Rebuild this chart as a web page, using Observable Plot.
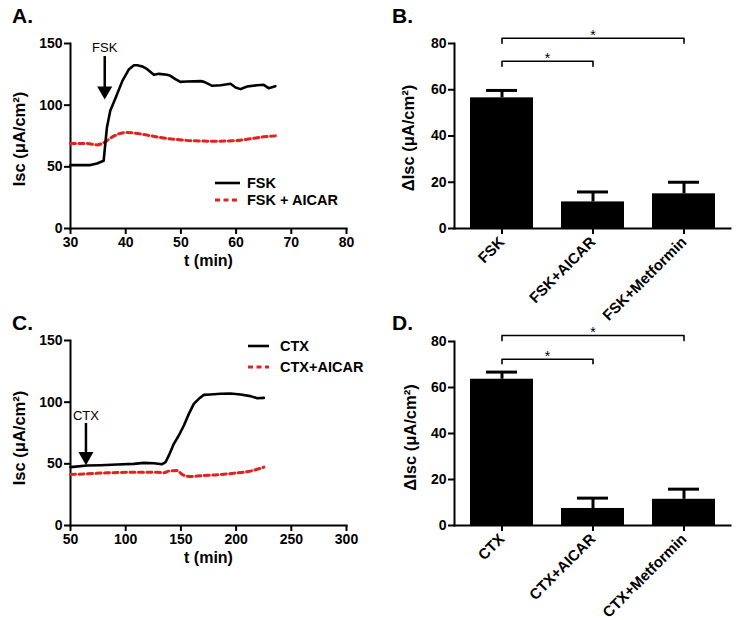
<!DOCTYPE html>
<html><head><meta charset="utf-8">
<script src="https://cdn.jsdelivr.net/npm/d3@7"></script>
<script src="https://cdn.jsdelivr.net/npm/@observablehq/plot@0.6"></script>
<style>
body{margin:0;background:#fff;}
#root{position:relative;width:736px;height:620px;font-family:"Liberation Sans",Arial,sans-serif;overflow:hidden;}
.panel{position:absolute;}
.tag{position:absolute;font-weight:bold;font-size:21px;line-height:21px;}
.legend{position:absolute;font-weight:bold;font-size:14.5px;}
.legend .row{display:flex;align-items:center;white-space:nowrap;}
</style></head><body><div id="root"></div>
<script>
// ---------- data ----------
const fskT      = [30,33.6,34.8,36.0,36.6,37.2,38.2,39.4,40.6,41.5,42.1,43.0,43.9,45.1,46.0,47.5,48.1,49.0,49.9,51.1,53.6,54.2,55.7,57.2,59.0,59.9,60.8,62.0,63.8,65.0,65.9,67.1];
const fskIsc    = [51.4,51.4,52.7,54.9,81.9,95.4,106.2,119.7,129.2,132.4,132.4,131.4,129.2,124.6,125.4,124.6,123.8,121.1,118.9,119.2,119.5,118.9,115.7,116.2,117.3,114.3,113.0,115.1,116.2,116.5,113.8,115.4];
const fskAicarT   = [30,33.0,34.8,36.0,37.9,40.0,41.8,43.9,46.3,48.7,52.3,56.0,59.6,62.0,65.0,67.1];
const fskAicarIsc = [68.9,68.9,67.8,69.5,75.1,77.8,77.3,75.7,73.8,72.4,71.1,70.8,71.1,72.4,74.3,75.1];

const ctxT      = [50,65.1,77.2,92.3,107.4,116.4,125.5,133.0,136.1,139.1,143.6,148.1,152.7,157.2,161.7,166.2,170.8,176.8,185.9,195.0,204.0,213.0,219.1,225.1];
const ctxIsc    = [47.3,48.6,48.9,49.5,50.0,50.8,50.5,49.7,51.4,56.8,66.2,73.0,81.1,90.5,98.6,102.7,105.9,106.2,106.8,107.0,106.2,104.9,103.2,103.5];
const ctxAicarT   = [50,65.1,83.2,107.4,128.5,134.5,139.1,146.6,151.1,158.7,167.8,182.9,198.0,213.0,225.1];
const ctxAicarIsc = [41.4,41.9,42.7,43.2,43.2,42.7,44.1,44.6,41.4,39.7,40.3,41.1,42.4,44.1,47.3];

const xTicksA = [30,40,50,60,70,80];
const xTicksC = [50,100,150,200,250,300];
const yTicksAC = [0,50,100,150];
const yTicksBD = [0,20,40,60,80];

// annotation arrows: [label, x, textY, arrowFromY, arrowToY]
const annotA = [["FSK", 36.2, 146.8, 139.4, 112.4]];
const annotC = [["CTX", 64.0, 89.2, 82.7, 56.8]];

const catsB  = ["FSK","FSK+AICAR","FSK+Metformin"];
const meansB = [56.5, 11.5, 15.0];
const errsB  = [3.2, 4.3, 5.0];
const catsD  = ["CTX","CTX+AICAR","CTX+Metformin"];
const meansD = [63.6, 7.4, 11.4];
const errsD  = [3.1, 4.5, 4.4];
// significance brackets: [from index, to index, height, drop]
const sigB = [[0,1,72.3,2.1],[0,2,82.3,2.2]];
const sigD = [[0,1,72.3,2.0],[0,2,82.6,2.2]];

const RED = "#e3221c";
const FONT = "'Liberation Sans', Arial, sans-serif";
const root = document.getElementById("root");

function place(node, left, top){
  const d = document.createElement("div");
  d.className = "panel"; d.style.left = left+"px"; d.style.top = top+"px";
  d.appendChild(node); root.appendChild(d);
}
function tag(txt, left, top){
  const d = document.createElement("div");
  d.className = "tag"; d.textContent = txt;
  d.style.left = left+"px"; d.style.top = top+"px"; root.appendChild(d);
}
function legend(items, left, top, sw, gap, rowH){
  const d = document.createElement("div");
  d.className = "legend"; d.style.left = left+"px"; d.style.top = top+"px";
  for (const [label, color, dash] of items){
    const r = document.createElement("div"); r.className = "row"; r.style.height = rowH+"px";
    r.innerHTML = `<svg width="${sw}" height="6" style="margin-right:${gap}px"><line x1="0" x2="${sw}" y1="3" y2="3" stroke="${color}" stroke-width="${dash? 3 : 2.6}" ${dash? 'stroke-dasharray="5,3.5"':''}/></svg><span>${label}</span>`;
    d.appendChild(r);
  }
  root.appendChild(d);
}

const baseStyle = {fontFamily: FONT, fontSize: "14px", fontWeight: "bold", overflow: "visible", background: "transparent", color: "black"};

function linePanel(o){
  const black = o.bt.map((t,i)=>({t, v:o.bv[i]}));
  const red = o.rt.map((t,i)=>({t, v:o.rv[i]}));
  const ann = o.annot.map(([label,x,ty,y1,y2])=>({label,x,ty,y1,y2}));
  const yDom = [0,150];
  return Plot.plot({
    width: 368, height: o.height,
    marginLeft: 70, marginRight: 22, marginTop: o.mt, marginBottom: o.mb,
    style: baseStyle,
    x: {domain: o.xDomain, label: null},
    y: {domain: yDom, label: null},
    marks: [
      Plot.axisX({ticks: o.xTicks, tickSize: 6, tickPadding: 3, strokeWidth: 2, label: null}),
      Plot.axisY({ticks: yTicksAC, tickSize: 6, tickPadding: 2, strokeWidth: 2, label: null}),
      Plot.frame({anchor: "left", strokeWidth: 2}),
      Plot.frame({anchor: "bottom", strokeWidth: 2}),
      Plot.line(red, {x: "t", y: "v", stroke: RED, strokeWidth: 3, strokeDasharray: "5,3.5", curve: "monotone-x"}),
      Plot.line(black, {x: "t", y: "v", stroke: "black", strokeWidth: 2.6, curve: "linear"}),
      Plot.ruleX(ann, {x: "x", y1: "y1", y2: "y2", strokeWidth: 2.5}),
      Plot.dot(ann, {x: "x", y: "y2", symbol: "triangle", r: 5.6, rotate: 180, fill: "black", stroke: null, dy: 1}),
      Plot.text(ann, {x: "x", y: "ty", text: "label", fontSize: 13, fontWeight: "normal"}),
      Plot.text(["t (min)"], {text: d=>d, frameAnchor: "bottom", dy: 37, fontSize: 16}),
      Plot.text([d3.mean(yDom)], {y: d=>d, text: () => "Isc (μA/cm²)", frameAnchor: "left", textAnchor: "middle", dx: -51, dy: o.ylabDy, rotate: -90, fontSize: 16.5})
    ]
  });
}

function barPanel(o){
  const ml = 86, mr = 6, W = 368, pi = 0.31, po = 0.17;
  const n = o.cats.length;
  const step = (W - ml - mr) / (n - pi + 2*po);
  const yDom = [0,80];
  const rows = o.cats.map((c,i)=>({cat:c, mean:o.means[i], top:o.means[i]+o.errs[i]}));
  const br = [];
  const stars = [];
  o.sig.forEach(([i,j,h,drop],k)=>{
    br.push({id:k,x:o.cats[i],y:h-drop},{id:k,x:o.cats[i],y:h},{id:k,x:o.cats[j],y:h},{id:k,x:o.cats[j],y:h-drop});
    const mid = (i+j)/2, f = Math.floor(mid);
    stars.push({x:o.cats[f], y:h, dx:(mid-f)*step});
  });
  return Plot.plot({
    width: W, height: o.height,
    marginLeft: ml, marginRight: mr, marginTop: o.mt, marginBottom: o.mb,
    style: baseStyle,
    x: {domain: o.cats, paddingInner: pi, paddingOuter: po, label: null},
    y: {domain: yDom, label: null},
    marks: [
      Plot.barY(rows, {x: "cat", y: "mean", fill: "black"}),
      Plot.ruleX(rows, {x: "cat", y1: "mean", y2: "top", strokeWidth: 3}),
      Plot.tickY(rows, {x: "cat", y: "top", strokeWidth: 3, insetLeft: 16, insetRight: 16}),
      Plot.line(br, {x: "x", y: "y", z: "id", stroke: "black", strokeWidth: 1.6}),
      ...stars.map(s => Plot.text([s], {x: "x", y: "y", text: () => "*", dx: s.dx, dy: -3, fontSize: 14, fontWeight: "normal"})),
      Plot.axisX({tickRotate: -45, tickSize: 6, tickPadding: 5, strokeWidth: 2, fontSize: 15, label: null}),
      Plot.axisY({ticks: yTicksBD, tickSize: 6, tickPadding: 2, strokeWidth: 2, label: null}),
      Plot.frame({anchor: "left", strokeWidth: 2}),
      Plot.frame({anchor: "bottom", strokeWidth: 2}),
      Plot.text([d3.mean(yDom)], {y: d=>d, text: () => "ΔIsc (μA/cm²)", frameAnchor: "left", textAnchor: "middle", dx: o.ylabDx, dy: o.ylabDy, rotate: -90, fontSize: 16.5})
    ]
  });
}

place(linePanel({bt: fskT, bv: fskIsc, rt: fskAicarT, rv: fskAicarIsc, xDomain: [30,80], xTicks: xTicksA,
  annot: annotA, height: 300, mt: 43, mb: 72, ylabDy: 3}), 0, 0);
place(barPanel({cats: catsB, means: meansB, errs: errsB, sig: sigB, height: 300, mt: 43, mb: 72, ylabDx: -46, ylabDy: 2}), 368, 0);
place(linePanel({bt: ctxT, bv: ctxIsc, rt: ctxAicarT, rv: ctxAicarIsc, xDomain: [50,300], xTicks: xTicksC,
  annot: annotC, height: 320, mt: 40, mb: 95, ylabDy: 5}), 0, 300);
place(barPanel({cats: catsD, means: meansD, errs: errsD, sig: sigD, height: 320, mt: 41, mb: 95, ylabDx: -44, ylabDy: 4}), 368, 300);

tag("A.", 12, 5); tag("B.", 392, 5); tag("C.", 12, 312); tag("D.", 392, 312);
legend([["FSK","black",false],["FSK + AICAR",RED,true]], 215, 174, 25, 7, 17);
legend([["CTX","black",false],["CTX+AICAR",RED,true]], 248, 335, 21, 11, 21);
</script>
</body></html>
